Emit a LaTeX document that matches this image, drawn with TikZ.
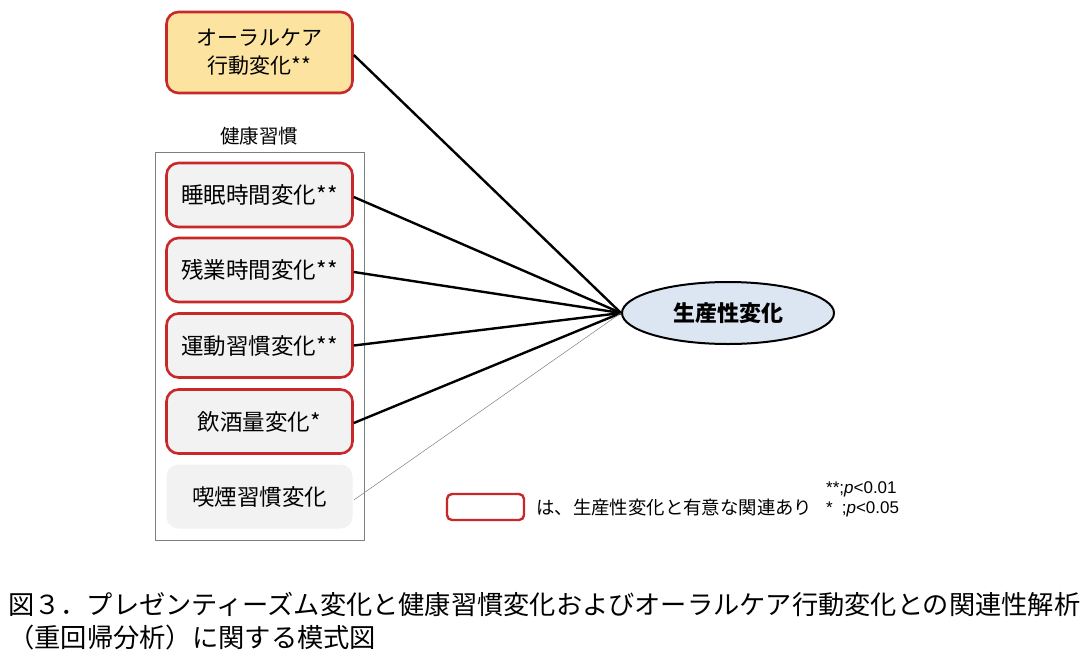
\documentclass[tikz,border=0pt]{standalone}
\usepackage{fontspec}
\setmainfont{Noto Sans CJK JP}
\newfontfamily\jp{Noto Sans CJK JP}
\newfontfamily\lat{Liberation Sans}
\usetikzlibrary{shapes.geometric}
\definecolor{redb}{HTML}{C8282A}
\definecolor{yelf}{HTML}{FCE3A0}
\definecolor{grayf}{HTML}{F2F2F2}
\definecolor{bluef}{HTML}{DCE6F2}
\definecolor{frameg}{HTML}{7F7F7F}
\tikzset{
  sigbox/.style={draw=redb, line width=2.6pt, rounded corners=12pt, fill=grayf,
     minimum width=186pt, minimum height=64pt, align=center, inner sep=0pt,
     font=\jp\fontsize{22.5}{28}\selectfont},
  plainbox/.style={sigbox, draw=none},
  oralbox/.style={sigbox, fill=yelf, minimum height=81pt, font=\jp\fontsize{21}{28}\selectfont},
  link/.style={line width=2.4pt, black},
  weak/.style={line width=0.5pt, gray},
}
\begin{document}
\begin{tikzpicture}[x=1pt,y=-1pt]
\useasboundingbox (0,0) rectangle (1089,662);
\fill[white] (0,0) rectangle (1089,662);
% outer frame
\draw[frameg, line width=1pt] (155,152) rectangle (364,540);
\node[font=\jp\fontsize{19.5}{22}\selectfont] (title) at (259,136) {健康習慣};
% nodes
\node[oralbox] (oral) at (259.5,52.5) {オーラルケア\\行動変化**};
\node[sigbox] (sleep) at (259.5,195) {睡眠時間変化**};
\node[sigbox] (over) at (259.5,270) {残業時間変化**};
\node[sigbox] (exer) at (259.5,345.5) {運動習慣変化**};
\node[sigbox] (alc) at (259.5,421.5) {飲酒量変化*};
\node[plainbox] (smoke) at (259.5,496.5) {喫煙習慣変化};
\node[ellipse, draw=black, line width=2pt, fill=bluef, minimum width=212pt, minimum height=62pt,
  font=\jp\bfseries\fontsize{22}{24}\selectfont] (prod) at (728,313) {生産性変化};
% connectors
\coordinate (tip) at (prod.west);
\draw[link] (oral.east |- 0,55) -- (tip);
\draw[link] (sleep.east |- 0,197) -- (tip);
\draw[link] (over.east |- 0,272) -- (tip);
\draw[link] (exer.east) -- (tip);
\draw[link] (alc.east |- 0,423) -- (tip);
\draw[weak] (smoke.east |- 0,500) -- (tip);
% legend
\node[draw=redb, line width=2.4pt, rounded corners=5pt, minimum width=77pt, minimum height=26pt, inner sep=0pt] (legbox) at (485.5,507) {};
\node[anchor=west, inner sep=0pt, font=\jp\fontsize{18.4}{20}\selectfont] (legtxt) at (536,508) {は、生産性変化と有意な関連あり};
\node[anchor=west, inner sep=0pt, font=\lat\fontsize{17}{18}\selectfont] (p1) at (826,489) {**;\textit{p}<0.01};
\node[anchor=west, inner sep=0pt, font=\lat\fontsize{17}{18}\selectfont] (p2) at (826,509) {*\hspace{9pt};\textit{p}<0.05};
% caption
\node[anchor=west, inner sep=0pt, font=\jp\fontsize{22}{26}\selectfont] (cap1) at (8,604)
  {\resizebox{1072pt}{!}{図３．プレゼンティーズム変化と健康習慣変化およびオーラルケア行動変化との関連性解析}};
\node[anchor=west, inner sep=0pt, font=\jp\fontsize{22}{26}\selectfont] (cap2) at (8,637)
  {\resizebox{368pt}{!}{（重回帰分析）に関する模式図}};
\end{tikzpicture}
\end{document}
